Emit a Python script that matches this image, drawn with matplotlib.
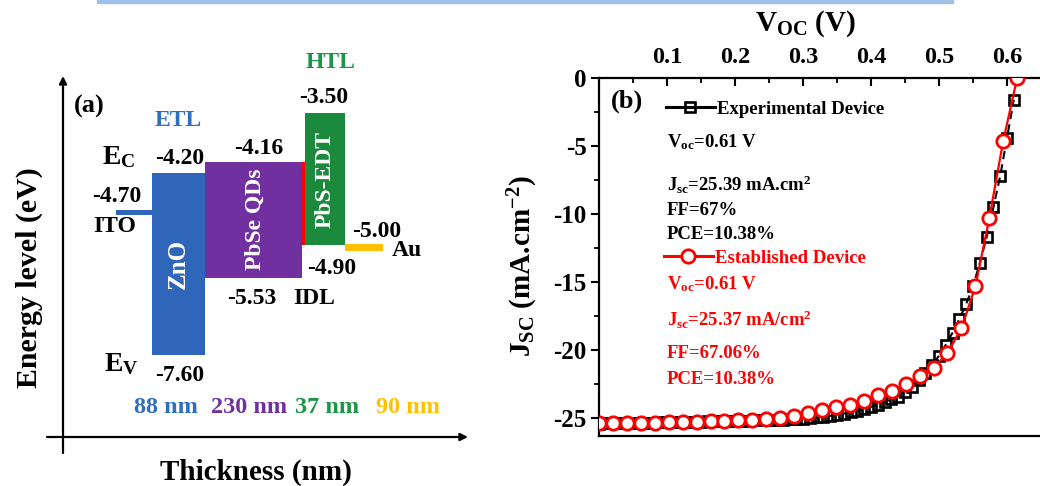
import matplotlib
matplotlib.use("Agg")
import matplotlib.pyplot as plt
from matplotlib.patches import Rectangle
from matplotlib.lines import Line2D

# ---------------- data ----------------
# Panel (a): band diagram (schematic levels, diagram units)
layer_names = ["ITO", "ZnO", "PbSe QDs", "IDL", "PbS-EDT", "Au"]
layer_left = [116, 152, 205, 301, 305, 345]
layer_right = [152, 205, 302, 306, 345, 383]
layer_top = [210, 173, 162, 162, 113, 244]
layer_bottom = [215, 355, 278, 245, 245, 251]
layer_colors = ["#2f66b9", "#2f66b9", "#7030a0", "#ff0000", "#1c8a3c", "#ffc000"]
thickness_labels = ["88 nm", "230 nm", "37 nm", "90 nm"]
thickness_colors = ["#2e6fc0", "#7030a0", "#1a9646", "#ffc000"]

# Panel (b): J-V curves
v_exp = [0.00, 0.01, 0.02, 0.03, 0.04, 0.05, 0.06, 0.07, 0.08, 0.09,
         0.10, 0.11, 0.12, 0.13, 0.14, 0.15, 0.16, 0.17, 0.18, 0.19,
         0.20, 0.21, 0.22, 0.23, 0.24, 0.25, 0.26, 0.27, 0.28, 0.29,
         0.30, 0.31, 0.32, 0.33, 0.34, 0.35, 0.36, 0.37, 0.38, 0.39,
         0.40, 0.41, 0.42, 0.43, 0.44, 0.45, 0.46, 0.47, 0.48, 0.49,
         0.50, 0.51, 0.52, 0.53, 0.54, 0.55, 0.56, 0.57, 0.58, 0.59,
         0.60, 0.61]
j_exp = [-25.39, -25.38, -25.37, -25.36, -25.35, -25.34, -25.33, -25.32, -25.31, -25.30,
         -25.29, -25.28, -25.27, -25.26, -25.25, -25.24, -25.23, -25.22, -25.21, -25.20,
         -25.19, -25.18, -25.17, -25.16, -25.15, -25.14, -25.12, -25.10, -25.08, -25.05,
         -25.02, -24.98, -24.93, -24.88, -24.82, -24.75, -24.65, -24.55, -24.45, -24.30,
         -24.15, -24.00, -23.80, -23.60, -23.40, -23.10, -22.70, -22.20, -21.70, -21.10,
         -20.40, -19.60, -18.70, -17.70, -16.60, -15.30, -13.60, -11.70, -9.50, -7.20,
         -4.40, -1.60]
v_est = [0.0000, 0.0205, 0.0410, 0.0615, 0.0820, 0.1025, 0.1230, 0.1435, 0.1640, 0.1845,
         0.2050, 0.2255, 0.2460, 0.2665, 0.2870, 0.3075, 0.3280, 0.3485, 0.3690, 0.3895,
         0.4100, 0.4305, 0.4510, 0.4715, 0.4920, 0.5125, 0.5330, 0.5535, 0.5740, 0.5945,
         0.6150]
j_est = [-25.37, -25.36, -25.35, -25.33, -25.31, -25.29, -25.27, -25.25, -25.22, -25.19,
         -25.15, -25.10, -25.04, -24.95, -24.80, -24.60, -24.40, -24.20, -24.00, -23.70,
         -23.30, -23.00, -22.50, -21.90, -21.30, -20.20, -18.40, -15.30, -10.30, -4.60,
         0.00]
x_ticks = [0.1, 0.2, 0.3, 0.4, 0.5, 0.6]
x_ticklabels = ["0.1", "0.2", "0.3", "0.4", "0.5", "0.6"]
y_ticks = [0, -5, -10, -15, -20, -25]
y_ticklabels = ["0", "-5", "-10", "-15", "-20", "-25"]

# ---------------- style ----------------
SERIF = "Liberation Serif"
plt.rcParams["font.family"] = [SERIF, "DejaVu Serif"]
plt.rcParams["font.weight"] = "bold"
plt.rcParams["mathtext.fontset"] = "custom"
plt.rcParams["mathtext.rm"] = SERIF + ":bold"
plt.rcParams["mathtext.it"] = SERIF + ":italic:bold"
plt.rcParams["mathtext.bf"] = SERIF + ":bold"

W, H = 1040, 486
fig = plt.figure(figsize=(W / 100, H / 100), dpi=100)


def ftxt(x, y, s, **kw):
    kw.setdefault("fontweight", "bold")
    return fig.text(x / W, 1 - y / H, s, **kw)


# top decorative band
fig.patches.append(Rectangle((97 / W, 1 - 3 / H), (953 - 97) / W, 3 / H,
                             transform=fig.transFigure, color="#9fc1e8", zorder=0))

# ---------------- panel (a) ----------------
axa = fig.add_axes([0, 0, 1, 1])
axa.set_xlim(0, W)
axa.set_ylim(H, 0)
axa.axis("off")

widths = [r - l for l, r in zip(layer_left, layer_right)]
heights = [b - t for t, b in zip(layer_top, layer_bottom)]
axa.bar(layer_left, heights, width=widths, bottom=layer_top, align="edge",
        color=layer_colors, linewidth=0)

axa.annotate("", xy=(63, 76), xytext=(63, 453),
             arrowprops=dict(arrowstyle="-|>", lw=1.6, color="k", mutation_scale=11,
                             shrinkA=0, shrinkB=0))
axa.annotate("", xy=(468, 437), xytext=(47, 437),
             arrowprops=dict(arrowstyle="-|>", lw=1.6, color="k", mutation_scale=11,
                             shrinkA=0, shrinkB=0))

ftxt(29, 278, "Energy level (eV)", fontsize=21.5, rotation=90, ha="center", va="center")
ftxt(256, 472, "Thickness (nm)", fontsize=21, ha="center", va="center")
ftxt(89, 106, "(a)", fontsize=19, ha="center", va="center")
ftxt(178, 120, "ETL", fontsize=17, ha="center", va="center", color="#2e6fc0")
ftxt(331, 63, "HTL", fontsize=17, ha="center", va="center", color="#1a9646")
ftxt(119, 164, r"E$_{\mathrm{C}}$", fontsize=20, ha="center", va="baseline")
ftxt(121, 371, r"E$_{\mathrm{V}}$", fontsize=20, ha="center", va="baseline")

lbl = dict(fontsize=17, ha="center", va="center")
ftxt(180, 158, "-4.20", **lbl)
ftxt(117, 196, "-4.70", **lbl)
ftxt(115, 227, "ITO", **lbl)
ftxt(324, 97, "-3.50", **lbl)
ftxt(259, 148, "-4.16", **lbl)
ftxt(377, 231, "-5.00", **lbl)
ftxt(407, 250, "Au", **lbl)
ftxt(332, 268, "-4.90", **lbl)
ftxt(252, 298, "-5.53", **lbl)
ftxt(314, 298, "IDL", **lbl)
ftxt(180, 375, "-7.60", **lbl)

ftxt(178, 264, "ZnO", fontsize=18, rotation=90, ha="center", va="center", color="white")
ftxt(255, 219, "PbSe QDs", fontsize=17, rotation=90, ha="center", va="center", color="white")
ftxt(325, 179, "PbS-EDT", fontsize=17, rotation=90, ha="center", va="center", color="white")

for xc, s, c in zip([166, 249, 327, 408], thickness_labels, thickness_colors):
    ftxt(xc, 407, s, fontsize=17.5, ha="center", va="center", color=c)

# ---------------- panel (b) ----------------
L, R, T, B = 599, 1041, 78, 436
ax = fig.add_axes([L / W, 1 - B / H, (R - L) / W, (B - T) / H])
ax.set_xlim(0, 0.65)
ax.set_ylim(-26.3, 0)

exp_style = dict(color="k", marker="s", ms=7.4, mfc="none", mec="k", mew=1.9)
est_style = dict(color="#ff0000", marker="o", ms=9.6, mfc="white", mec="#ff0000", mew=2.0)
ax.plot(v_exp, j_exp, lw=1.5, ls=(0, (4, 2.5)), zorder=3, **exp_style)
ax.plot(v_est, j_est, lw=1.6, ls="-", zorder=4, **est_style)

for s in ["left", "top", "bottom"]:
    ax.spines[s].set_linewidth(1.6)
ax.spines["right"].set_visible(False)

ax.xaxis.tick_top()
ax.set_xticks(x_ticks)
ax.set_xticklabels(x_ticklabels)
ax.set_xticks([0.05, 0.15, 0.25, 0.35, 0.45, 0.55], minor=True)
ax.tick_params(axis="x", which="major", direction="in", length=6, width=1.5,
               pad=7, labelsize=17.5, top=True, bottom=False)
ax.tick_params(axis="x", which="minor", direction="in", length=3.5, width=1.3,
               top=True, bottom=False)
ax.set_yticks(y_ticks)
ax.set_yticklabels(y_ticklabels)
ax.set_yticks([-2.5, -7.5, -12.5, -17.5, -22.5], minor=True)
ax.tick_params(axis="y", which="major", direction="out", length=6, width=1.5,
               pad=3, labelsize=18, right=False)
ax.tick_params(axis="y", which="minor", direction="out", length=3.5, width=1.3, right=False)
for t in ax.get_xticklabels() + ax.get_yticklabels():
    t.set_fontweight("bold")

ftxt(806, 24, r"V$_{\mathrm{OC}}$ (V)", fontsize=21, ha="center", va="center")
ftxt(523, 266, r"J$_{\mathrm{SC}}$ (mA.cm$^{\mathrm{-2}}$)", fontsize=21, rotation=90,
     ha="center", va="center")
ftxt(627, 101, "(b)", fontsize=19, ha="center", va="center")

# legend entries (solid handle segments, as in the original)
h_exp = Line2D([], [], lw=2.2, ls="-", **exp_style)
h_est = Line2D([], [], lw=2.2, ls="-", **est_style)
legkw = dict(frameon=False, loc="center left", borderaxespad=0, borderpad=0,
             handlelength=2.6, handletextpad=0.12,
             prop=dict(family=SERIF, weight="bold", size=13.5))
leg1 = ax.legend([h_exp], ["Experimental Device"],
                 bbox_to_anchor=((666 - L) / (R - L), (B - 109) / (B - T)),
                 labelcolor="k", **legkw)
ax.add_artist(leg1)
leg2 = ax.legend([h_est], ["Established Device"],
                 bbox_to_anchor=((664 - L) / (R - L), (B - 258) / (B - T)),
                 labelcolor="#ff0000", **legkw)

tk = dict(fontsize=13.5, ha="left", va="baseline")
ftxt(667, 147, r"V$_{\mathrm{oc}}$=0.61 V", color="k", **tk)
ftxt(667, 191, r"J$_{\mathrm{sc}}$=25.39 mA.cm$^{\mathrm{2}}$", color="k", **tk)
ftxt(667, 215, "FF=67%", color="k", **tk)
ftxt(667, 239, "PCE=10.38%", color="k", **tk)
ftxt(667, 289, r"V$_{\mathrm{oc}}$=0.61 V", color="#ff0000", **tk)
ftxt(667, 326, r"J$_{\mathrm{sc}}$=25.37 mA/cm$^{\mathrm{2}}$", color="#ff0000", **tk)
ftxt(667, 358, "FF=67.06%", color="#ff0000", **tk)
ftxt(667, 384, "PCE=10.38%", color="#ff0000", **tk)

fig.savefig("out.png", dpi=100)
